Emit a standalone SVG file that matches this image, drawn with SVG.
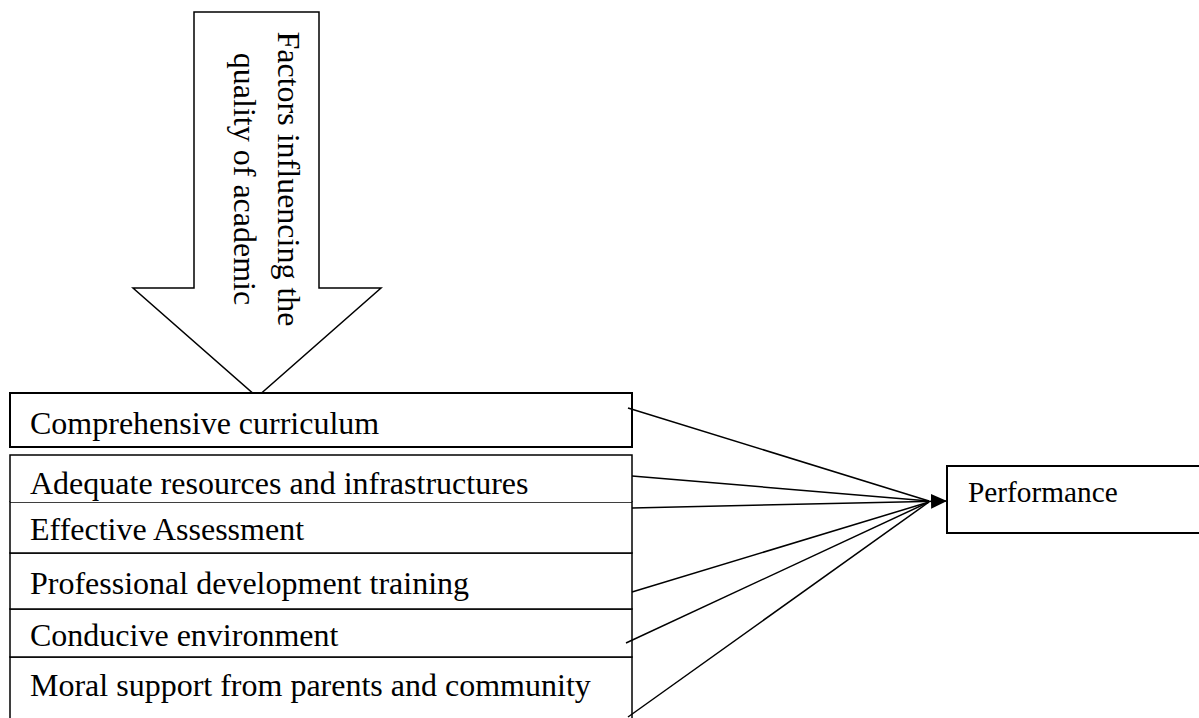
<svg xmlns="http://www.w3.org/2000/svg" width="1199" height="718" viewBox="0 0 1199 718">
  <style>
    .shape { fill: #ffffff; stroke: #000000; stroke-width: 1.5; }
    .thick { stroke-width: 2; }
    .lbl { font-family: "Liberation Serif", "Times New Roman", serif; font-size: 32px; fill: #000000; }
    .small { font-size: 29.3px; }
    .conn { stroke: #000000; stroke-width: 1.5; fill: none; }
  </style>
  <defs>
    <marker id="arrowhead" markerWidth="16" markerHeight="16" refX="16" refY="8" orient="auto" markerUnits="userSpaceOnUse">
      <polygon points="0,0.5 16,8 0,15.5" fill="#000000"/>
    </marker>
  </defs>
  <rect x="0" y="0" width="1199" height="718" fill="#ffffff"/>

  <g id="factors-arrow">
    <polygon class="shape" points="194,12 319,12 319,288 381,288 257,397 133,288 194,288"/>
    <text class="lbl" transform="translate(278,179) rotate(90)" text-anchor="middle">Factors influencing the</text>
    <text class="lbl" transform="translate(234,179) rotate(90)" text-anchor="middle">quality of academic</text>
  </g>

  <g id="comprehensive-curriculum">
    <rect class="shape thick" x="10" y="393" width="622" height="54"/>
    <text class="lbl" x="30" y="434">Comprehensive curriculum</text>
  </g>

  <g id="moral-support">
    <rect class="shape" x="10" y="657" width="622" height="80"/>
    <text class="lbl" x="30" y="696">Moral support from parents and community</text>
  </g>
  <g id="conducive-environment">
    <rect class="shape" x="10" y="609" width="622" height="48"/>
    <text class="lbl" x="30" y="646">Conducive environment</text>
  </g>
  <g id="professional-development">
    <rect class="shape" x="10" y="553" width="622" height="56"/>
    <text class="lbl" x="30" y="594">Professional development training</text>
  </g>
  <g id="effective-assessment">
    <rect class="shape" x="10" y="502" width="622" height="51"/>
    <text class="lbl" x="30" y="540">Effective Assessment</text>
  </g>
  <g id="adequate-resources">
    <path class="shape" d="M10,502 L10,455 L632,455 L632,502"/>
    <text class="lbl" x="30" y="494">Adequate resources and infrastructures</text>
  </g>

  <g id="performance">
    <rect class="shape thick" x="947" y="466" width="260" height="67"/>
    <text class="lbl small" x="968" y="502">Performance</text>
  </g>

  <g id="connectors">
    <line class="conn" x1="628" y1="408" x2="929" y2="501"/>
    <line class="conn" x1="632" y1="476" x2="929" y2="501"/>
    <line class="conn" x1="632" y1="508" x2="947" y2="501" stroke-width="2" marker-end="url(#arrowhead)"/>
    <line class="conn" x1="632" y1="592" x2="929" y2="502"/>
    <line class="conn" x1="626" y1="643" x2="929" y2="502"/>
    <line class="conn" x1="628" y1="717" x2="929" y2="502"/>
  </g>
</svg>
